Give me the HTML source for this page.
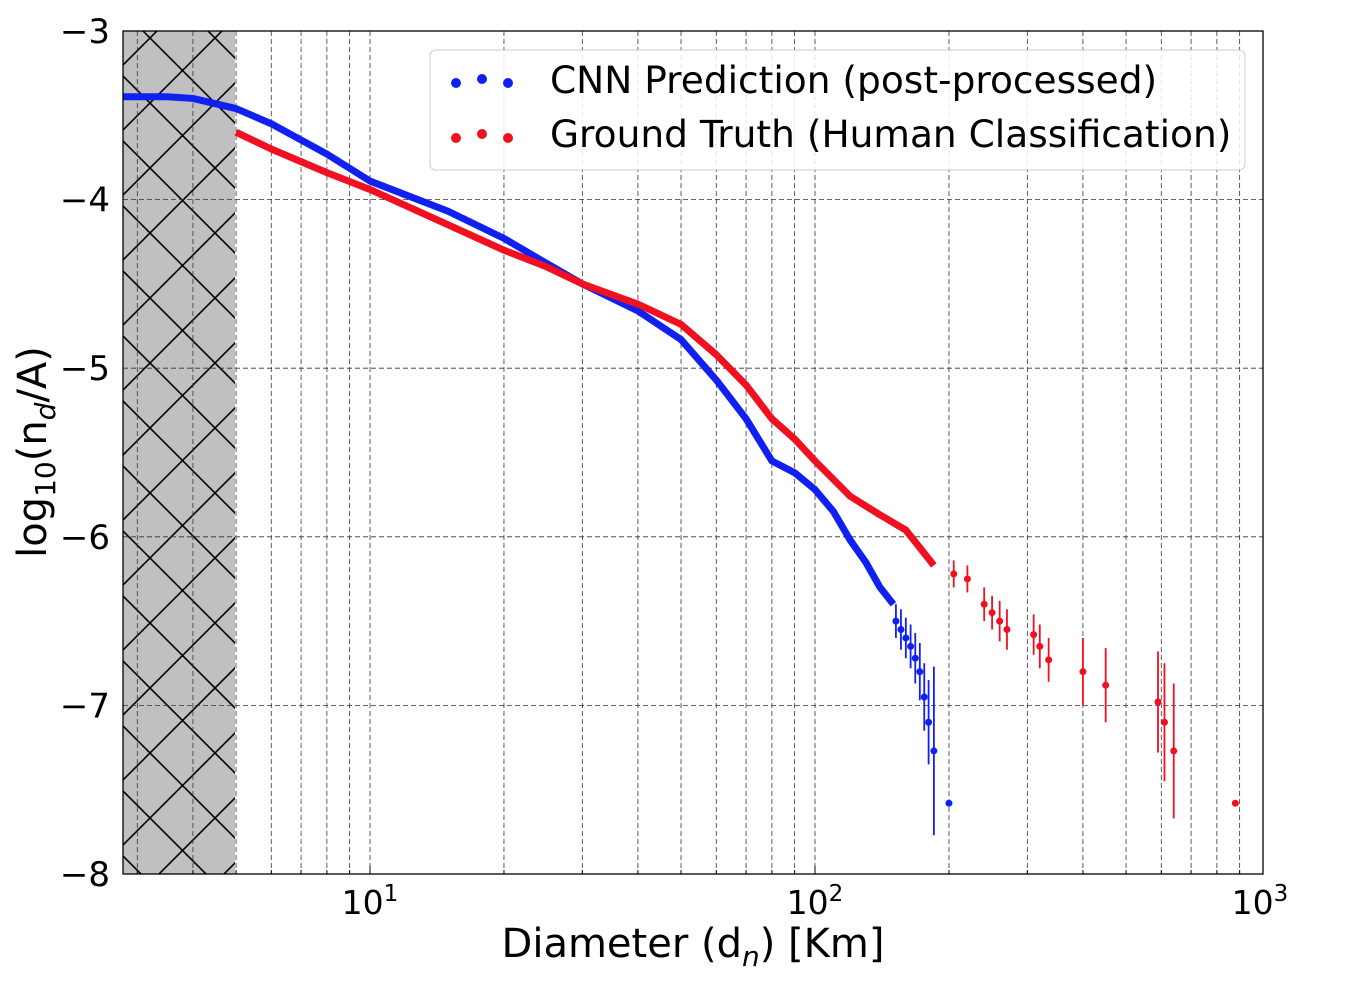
<!DOCTYPE html>
<html><head><meta charset="utf-8"><style>
body{margin:0;background:#fff;}
svg text{font-family:"DejaVu Sans","Liberation Sans",sans-serif;fill:#000;}
</style></head><body>
<svg id="chart" width="1346" height="982" xmlns="http://www.w3.org/2000/svg">
<defs>
<pattern id="hatch" patternUnits="userSpaceOnUse" width="65" height="65" x="117.5" y="5.5">
<rect width="65" height="65" fill="#c0c0c0"/>
<path d="M0,0L65,65M65,0L0,65" stroke="#000" stroke-width="1.6"/>
</pattern>
<clipPath id="plotclip"><rect x="123" y="31" width="1140" height="843"/></clipPath>
</defs>
<rect x="123" y="31" width="112" height="843" fill="url(#hatch)"/>
<g id="grid"></g>
<g id="series" clip-path="url(#plotclip)"></g>
<rect x="123" y="31" width="1140" height="843" fill="none" stroke="#000" stroke-width="1.3"/>
<g id="axes"></g>
<text x="693" y="957" font-size="40" text-anchor="middle">Diameter (d<tspan font-size="28" dy="9" font-style="italic">n</tspan><tspan dy="-9">) [Km]</tspan></text>
<text transform="translate(46,452) rotate(-90)" font-size="40" text-anchor="middle">log<tspan font-size="28" dy="9">10</tspan><tspan dy="-9">(n</tspan><tspan font-size="28" dy="9" font-style="italic">d</tspan><tspan dy="-9">/A)</tspan></text>
<g>
<rect x="430" y="50" width="815" height="120" rx="6" fill="#fff" fill-opacity="0.85" stroke="#ccc"/>
<circle cx="456" cy="83" r="5" fill="#1020f0"/><circle cx="482" cy="79" r="5" fill="#1020f0"/><circle cx="508" cy="83" r="5" fill="#1020f0"/>
<text x="550" y="93" font-size="37.5">CNN Prediction (post-processed)</text>
<circle cx="456" cy="138" r="5" fill="#f01020"/><circle cx="482" cy="134" r="5" fill="#f01020"/><circle cx="508" cy="138" r="5" fill="#f01020"/>
<text x="550" y="147" font-size="37.5">Ground Truth (Human Classification)</text>
</g>
</svg>
<script>
const blueLineD=[2.79,3.5,4,5,6,8,10,15,20,25,30,40,50,60,70,80,90,100,110,120,130,140,150];
const blueLineY=[-3.39,-3.39,-3.40,-3.46,-3.55,-3.73,-3.89,-4.07,-4.23,-4.38,-4.5,-4.66,-4.83,-5.07,-5.3,-5.55,-5.62,-5.72,-5.85,-6.02,-6.15,-6.3,-6.4];
const bluePtsD=[152,156,160,164,168,172,176,180,185,200];
const bluePtsY=[-6.5,-6.55,-6.6,-6.65,-6.72,-6.8,-6.95,-7.1,-7.27,-7.58];
const bluePtsErr=[0.1,0.12,0.12,0.13,0.15,0.17,0.2,0.25,0.5,0];
const redLineD=[5,6,8,10,15,20,25,30,40,50,60,70,80,90,100,120,140,160,185];
const redLineY=[-3.6,-3.7,-3.84,-3.94,-4.15,-4.3,-4.4,-4.5,-4.62,-4.74,-4.92,-5.1,-5.3,-5.42,-5.55,-5.76,-5.87,-5.96,-6.17];
const redPtsD=[205,220,240,250,260,270,310,320,335,400,450,590,610,640,880];
const redPtsY=[-6.22,-6.25,-6.4,-6.45,-6.5,-6.55,-6.58,-6.65,-6.73,-6.8,-6.88,-6.98,-7.1,-7.27,-7.58];
const redPtsErr=[0.08,0.08,0.1,0.1,0.12,0.12,0.12,0.13,0.13,0.2,0.22,0.3,0.35,0.4,0];
const xTicks=[10,100,1000];
const xTickExp=["1","2","3"];
const yTicks=[-3,-4,-5,-6,-7,-8];
const NS="http://www.w3.org/2000/svg";
const X=d=>370+445*Math.log10(d/10);
const Y=v=>31+(-3-v)*168.6;
function mk(tag,attrs,parent){const e=document.createElementNS(NS,tag);for(const k in attrs)e.setAttribute(k,attrs[k]);parent.appendChild(e);return e;}
const grid=document.getElementById('grid'),series=document.getElementById('series'),axes=document.getElementById('axes');
for(let dec=1;dec<=100;dec*=10)for(let m=1;m<=9;m++){const d=dec*m;if(d<2.79||d>1000)continue;const x=X(d);
const g=mk('line',{x1:x,x2:x,y1:31,y2:874,stroke:'#333','stroke-width':0.8,'stroke-dasharray':'5,3'},grid);

const t=mk('line',{x1:x,x2:x,y1:874,y2:m==1?866:870,stroke:'#000','stroke-width':1},axes);
}
yTicks.forEach(v=>{const y=Y(v);
const g=mk('line',{x1:123,x2:1263,y1:y,y2:y,stroke:'#333','stroke-width':0.8,'stroke-dasharray':'5,3'},grid);

const t=mk('text',{x:110,y:y+12,'font-size':34,'text-anchor':'end'},axes);t.textContent='\u2212'+Math.abs(v);
});
xTicks.forEach((d,i)=>{const t=mk('text',{x:X(d),y:914,'font-size':33,'text-anchor':'middle'},axes);
t.innerHTML='10<tspan font-size="23" dy="-13">'+xTickExp[i]+'</tspan>';
});
function line(D,V,c,name){const p=mk('polyline',{points:D.map((d,i)=>X(d)+','+Y(V[i])).join(' '),fill:'none',stroke:c,'stroke-width':7,'stroke-linejoin':'round'},series);
}
function pts(D,V,E,c,name){D.forEach((d,i)=>{const x=X(d);
if(E[i]>0){const l=mk('line',{x1:x,x2:x,y1:Y(V[i]+E[i]),y2:Y(V[i]-E[i]),stroke:c,'stroke-width':1.8},series);
}
const ci=mk('circle',{cx:x,cy:Y(V[i]),r:3.5,fill:c},series);
});}
line(blueLineD,blueLineY,'#1020f0','cnn-line');
line(redLineD,redLineY,'#f01020','ground-truth-line');
pts(bluePtsD,bluePtsY,bluePtsErr,'#1020f0','cnn');
pts(redPtsD,redPtsY,redPtsErr,'#f01020','ground-truth');
</script>
</body></html>
